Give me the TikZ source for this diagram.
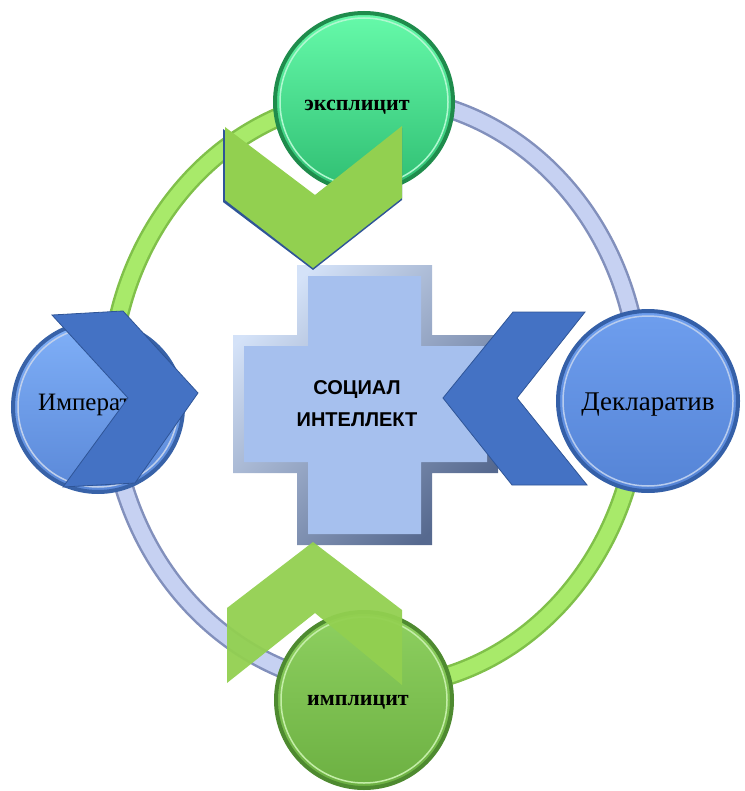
\documentclass[tikz,border=0pt]{standalone}
\usepackage{fontspec}
\setmainfont{Liberation Serif}
\newfontfamily\arialf{Liberation Sans}
\definecolor{ringgreen}{HTML}{A8EA6A}
\definecolor{ringgreenedge}{HTML}{80C04A}
\definecolor{ringblue}{HTML}{C6D1F2}
\definecolor{ringblueedge}{HTML}{8290BC}
\definecolor{chgreen}{HTML}{92D050}
\definecolor{chblue}{HTML}{4472C4}
\definecolor{chblueedge}{HTML}{2F5597}
\definecolor{crossfill}{HTML}{A6C0EE}
\definecolor{crosslight}{HTML}{D4E2F8}
\definecolor{crossdark}{HTML}{56698F}
\definecolor{impRim}{HTML}{3862A8}\definecolor{impTop}{HTML}{80B0F8}\definecolor{impBot}{HTML}{5A88D8}\definecolor{impHi}{HTML}{C0D0EC}
\definecolor{expRim}{HTML}{1F8C4C}\definecolor{expTop}{HTML}{66FAAA}\definecolor{expBot}{HTML}{2FBE72}\definecolor{expHi}{HTML}{B0F8D0}
\definecolor{implRim}{HTML}{4E8A30}\definecolor{implTop}{HTML}{8ED060}\definecolor{implBot}{HTML}{6CB042}\definecolor{implHi}{HTML}{C4EEA8}
\definecolor{decRim}{HTML}{3560A8}\definecolor{decTop}{HTML}{6E9EEE}\definecolor{decBot}{HTML}{5584D6}\definecolor{decHi}{HTML}{B8CCEE}
\begin{document}
\begin{tikzpicture}[x=1pt,y=-1pt,
  ringarc/.style={line width=20pt},
  ball/.style={circle, inner sep=0pt, line width=4pt},
  lbl/.style={font=\fontsize{#1}{#1}\selectfont, inner sep=0pt},
  chev/.style={line width=0.8pt, line join=miter}
]
\useasboundingbox (0,0) rectangle (744,791);
% ring
\def\cx{375}\def\cy{392}
\draw[ringarc, ringgreenedge] (\cx+265,\cy) arc[start angle=0, end angle=90, x radius=265pt, y radius=-295pt];
\draw[line width=15pt, ringgreen] (\cx+265,\cy) arc[start angle=0, end angle=90, x radius=265pt, y radius=-295pt];
\draw[ringarc, ringblueedge] (\cx,\cy+295) arc[start angle=90, end angle=180, x radius=265pt, y radius=-295pt];
\draw[line width=15pt, ringblue] (\cx,\cy+295) arc[start angle=90, end angle=180, x radius=265pt, y radius=-295pt];
\draw[ringarc, ringgreenedge] (\cx-265,\cy) arc[start angle=180, end angle=270, x radius=265pt, y radius=-295pt];
\draw[line width=15pt, ringgreen] (\cx-265,\cy) arc[start angle=180, end angle=270, x radius=265pt, y radius=-295pt];
\draw[ringarc, ringblueedge] (\cx,\cy-295) arc[start angle=270, end angle=360, x radius=265pt, y radius=-295pt];
\draw[line width=15pt, ringblue] (\cx,\cy-295) arc[start angle=270, end angle=360, x radius=265pt, y radius=-295pt];

% circles under chevrons
\node[ball, minimum size=170pt, draw=impRim, top color=impTop, bottom color=impBot] (imp) at (98,407) {};
\draw[impHi, line width=1.5pt] (imp.center) circle[radius=80pt];
\node[ball, minimum size=178pt, draw=expRim, top color=expTop, bottom color=expBot] (exp) at (364,102) {};
\draw[expHi, line width=1.5pt] (exp.center) circle[radius=84pt];
\node[ball, minimum size=176pt, draw=implRim, top color=implTop, bottom color=implBot] (impl) at (364,700) {};
\draw[implHi, line width=1.5pt] (impl.center) circle[radius=83pt];

% cross
\shade[shading=axis, top color=crosslight, bottom color=crossdark, shading angle=45]
  (297,265) -- (432,265) -- (432,335) -- (498,335) -- (498,473) -- (432,473) -- (432,545)
  -- (297,545) -- (297,473) -- (233,473) -- (233,335) -- (297,335) -- cycle;
\fill[crossfill]
  (308,276) -- (421,276) -- (421,346) -- (487,346) -- (487,462) -- (421,462) -- (421,534)
  -- (308,534) -- (308,462) -- (244,462) -- (244,346) -- (308,346) -- cycle;
\node[lbl=20, font=\arialf\bfseries\fontsize{20}{32}\selectfont, align=center] (soc) at (357,404) {СОЦИАЛ\\ИНТЕЛЛЕКТ};

% texts in circles under chevrons
\node[lbl=25, anchor=west] (impt) at (38,405) {Императ};
\node[lbl=22, font=\bfseries\fontsize{22}{22}\selectfont] (expt) at (357,107) {эксплицит};
\node[lbl=22, font=\bfseries\fontsize{22}{22}\selectfont] (implt) at (358,702) {имплицит};

% chevrons
\fill[chblueedge] (223,129) -- (313,197) -- (402,128) -- (402,200) -- (313,270) -- (223,202) -- cycle;
\fill[chgreen] (225,127) -- (315,195) -- (402,126) -- (402,198) -- (313,268) -- (225,200) -- cycle;
\fill[chgreen, opacity=0.95] (313,542) -- (402,610) -- (402,685) -- (315,613) -- (227,683) -- (227,608) -- cycle;
\filldraw[chev, fill=chblue, draw=chblueedge] (52,315) -- (123,311) -- (198,393) -- (135,483) -- (63,487) -- (128,398) -- cycle;
\filldraw[chev, fill=chblue, draw=chblueedge] (585,312) -- (513,312) -- (443,398) -- (512,485) -- (587,485) -- (517,398) -- cycle;

% right circle over chevron
\node[ball, minimum size=180pt, draw=decRim, top color=decTop, bottom color=decBot] (dec) at (648,401) {};
\draw[decHi, line width=1.5pt] (dec.center) circle[radius=85pt];
\node[lbl=27] (dect) at (648,405) {Декларатив};
\end{tikzpicture}
\end{document}
